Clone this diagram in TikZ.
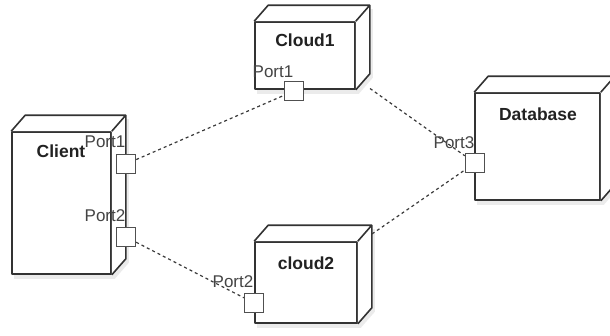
\documentclass[tikz,border=0pt]{standalone}
\usepackage{fontspec}
\setmainfont{Liberation Sans}
\usetikzlibrary{fit}
\pgfdeclarelayer{bg}
\pgfsetlayers{bg,main}
\definecolor{boxc}{HTML}{333333}
\definecolor{portc}{HTML}{505050}
\definecolor{linkc}{HTML}{3A3A3A}
\definecolor{txt}{HTML}{222222}
\definecolor{ptxt}{HTML}{444444}
\definecolor{shadowc}{HTML}{EBEBEB}
\tikzset{
  boxfront/.style={draw=boxc, line width=1.6pt, fill=white, inner sep=0pt, line join=round},
  faceline/.style={draw=boxc, line width=1.6pt, line join=round},
  port/.style={draw=portc, fill=white, line width=1.4pt, minimum size=19pt, inner sep=0pt},
  boxname/.style={font=\fontsize{17.5}{20}\selectfont\bfseries, text=txt, inner sep=0pt},
  portname/.style={font=\fontsize{17}{20}\selectfont, text=ptxt, inner sep=0pt},
  link/.style={draw=linkc, line width=1.2pt, dash pattern=on 3pt off 3pt},
  hull/.style={inner sep=0pt, draw=none}
}
\newcommand\depthfaces[1]{%
  \begin{pgfonlayer}{bg}
    \fill[shadowc] ([shift={(3,4)}]#1.south west) -- ([shift={(3,4)}]#1.north west)
      -- ([shift={(17,-12)}]#1.north west) -- ([shift={(17,-12)}]#1.north east)
      -- ([shift={(17,-12)}]#1.south east) -- ([shift={(3,4)}]#1.south east) -- cycle;
  \end{pgfonlayer}
  \fill[white] (#1.north west) -- ([shift={(14,-16)}]#1.north west) -- ([shift={(14,-16)}]#1.north east)
      -- ([shift={(14,-16)}]#1.south east) -- (#1.south east) -- (#1.north east) -- cycle;
  \draw[faceline] (#1.north west) -- ([shift={(14,-16)}]#1.north west) -- ([shift={(14,-16)}]#1.north east)
      -- ([shift={(14,-16)}]#1.south east) -- (#1.south east)
      (#1.north east) -- ([shift={(14,-16)}]#1.north east);
  \coordinate (#1tr) at ([shift={(14,-16)}]#1.north east);
}
\begin{document}
\begin{tikzpicture}[x=1pt,y=-1pt]
\useasboundingbox (0,0) rectangle (610,335);
\clip (0,0) rectangle (610,335);

% boxes
\node[boxfront, minimum width=99pt, minimum height=142pt] (client) at (61.5,203) {};
\depthfaces{client}
\node[boxfront, minimum width=100pt, minimum height=67pt] (cloud1) at (305,55.5) {};
\depthfaces{cloud1}
\node[boxfront, minimum width=102pt, minimum height=81pt] (cloud2) at (306,282.5) {};
\depthfaces{cloud2}
\node[boxfront, minimum width=125pt, minimum height=107pt] (db) at (537.5,146.5) {};
\depthfaces{db}

\node[hull, fit=(cloud1)(cloud1tr)] (cloud1all) {};
\node[hull, fit=(cloud2)(cloud2tr)] (cloud2all) {};

% ports
\node[port] (cp1) at (126,164) {};
\node[port] (cp2) at (126,237) {};
\node[port] (c1p) at (294,91) {};
\node[port] (c2p) at (254,303) {};
\node[port] (dbp) at (475,163) {};

% links
\draw[link] (cp1) -- (c1p);
\draw[link] (cp2) -- (c2p);
\draw[link] (cloud1all) -- (dbp);
\draw[link] (cloud2all) -- (dbp);

% names
\node[boxname] (clientlbl) at (61,151) {Client};
\node[boxname] (cloud1lbl) at (305,40) {Cloud1};
\node[boxname] (cloud2lbl) at (306,263) {cloud2};
\node[boxname] (dblbl) at (538,114) {Database};

% port labels
\node[portname] (cp1lbl) at (105,142) {Port1};
\node[portname] (cp2lbl) at (105,216) {Port2};
\node[portname] (c1plbl) at (273,72) {Port1};
\node[portname] (c2plbl) at (233,282) {Port2};
\node[portname] (dbplbl) at (454,143) {Port3};
\end{tikzpicture}
\end{document}
